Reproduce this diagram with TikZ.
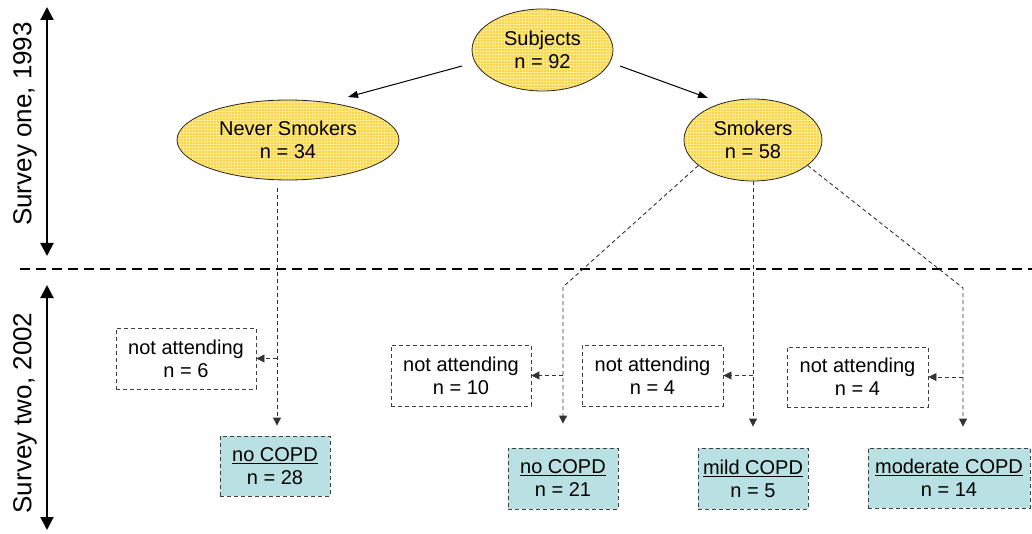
\documentclass[tikz,border=0pt]{standalone}
\usepackage{fontspec}
\setmainfont{Liberation Sans}
\usetikzlibrary{shapes.geometric,arrows.meta,patterns,calc}
\definecolor{yfill}{HTML}{F9D445}
\definecolor{ygrid}{HTML}{FFE98F}
\definecolor{tfill}{HTML}{B9E1E3}
\definecolor{dgray}{HTML}{404040}
\begin{document}
\begin{tikzpicture}[x=1pt,y=-1pt, font=\fontsize{20}{23}\selectfont,
 ell/.style={ellipse, draw=black!85, line width=0.8pt, preaction={fill=yfill}, pattern=grid, pattern color=ygrid, inner sep=0pt, align=center},
 nabox/.style={rectangle, draw=dgray, dash pattern=on 4pt off 3pt, line width=0.9pt, fill=white, minimum width=140pt, minimum height=61pt, inner sep=0pt, align=center},
 copd/.style={nabox, fill=tfill, minimum width=110pt},
 dline/.style={draw=black!80, line width=0.9pt, dash pattern=on 4pt off 3pt},
 darr/.style={dline, -{Triangle[length=8pt,width=8pt]}},
 sarr/.style={draw=black, line width=1pt, -{Triangle[length=10pt,width=7pt]}},
 bigarr/.style={draw=black, line width=2pt, {Triangle[length=13pt,width=13pt]}-{Triangle[length=13pt,width=13pt]}},
 sidelabel/.style={rotate=90, font=\fontsize{26}{30}\selectfont, inner sep=0pt},
]
\useasboundingbox (0,0) rectangle (1032,534);

% ellipses
\node[ell, minimum width=141pt, minimum height=82pt] (subj) at (542.5,50) {Subjects\\n = 92};
\node[ell, minimum width=222pt, minimum height=80pt] (never) at (288,140) {Never Smokers\\n = 34};
\node[ell, minimum width=138pt, minimum height=82pt] (smok) at (753,140) {Smokers\\n = 58};

% boxes
\node[nabox] (na1) at (186,358.5) {not attending\\n = 6};
\node[copd, minimum height=60pt] (nc1) at (275,466) {\underline{no COPD}\\n = 28};
\node[nabox] (na2) at (461,375.5) {not attending\\n = 10};
\node[copd] (nc2) at (563,478.5) {\underline{no COPD}\\n = 21};
\node[nabox, minimum width=141pt] (na3) at (652.5,375.5) {not attending\\n = 4};
\node[copd] (nc3) at (753,478.5) {\underline{mild COPD}\\n = 5};
\node[nabox, minimum width=141pt, minimum height=60pt] (na4) at (857.5,377) {not attending\\n = 4};
\node[copd, minimum width=162pt, minimum height=60pt] (nc4) at (949,478) {\underline{moderate COPD}\\n = 14};

% side labels and arrows
\node[sidelabel] (lab1) at (25,124) {Survey one, 1993};
\node[sidelabel] (lab2) at (25,413) {Survey two, 2002};
\coordinate (t1) at (47,7);
\coordinate (t2) at (47,256);
\coordinate (b1) at (47,285);
\coordinate (b2) at (47,530);
\draw[bigarr] (t1) -- (t2);
\draw[bigarr] (b1) -- (b2);
\coordinate (dl) at (20,269);
\coordinate (dr) at (1032,269);
\draw[line width=2.5pt, dash pattern=on 10pt off 6pt] (dl) -- (dr);

% solid arrows
\coordinate (s1) at (462,66);
\coordinate (e1) at (348,97);
\coordinate (s2) at (620,66);
\coordinate (e2) at (708,98);
\draw[sarr] (s1) -- (e1);
\draw[sarr] (s2) -- (e2);

% never smokers branch
\coordinate (v1) at ($(never.south)+(-11,8)$);
\draw[darr] (v1) -- ($(v1 |- nc1.north)+(0,-10)$);
\draw[darr] (v1 |- na1.east) -- (na1.east);

% smokers branches
\coordinate (k1) at (563,287);
\draw[darr] (smok.205) -- (k1) -- ($(k1 |- nc2.north)+(0,-24)$);
\draw[darr] (k1 |- na2.east) -- (na2.east);

\draw[darr] (smok.south) -- ($(nc3.north)+(0,-21)$);
\draw[darr] (smok.south |- na3.east) -- (na3.east);

\coordinate (k3) at (963,288);
\draw[darr] (smok.-25) -- (k3) -- ($(k3 |- nc4.north)+(0,-21)$);
\draw[darr] (k3 |- na4.east) -- (na4.east);
\end{tikzpicture}
\end{document}
